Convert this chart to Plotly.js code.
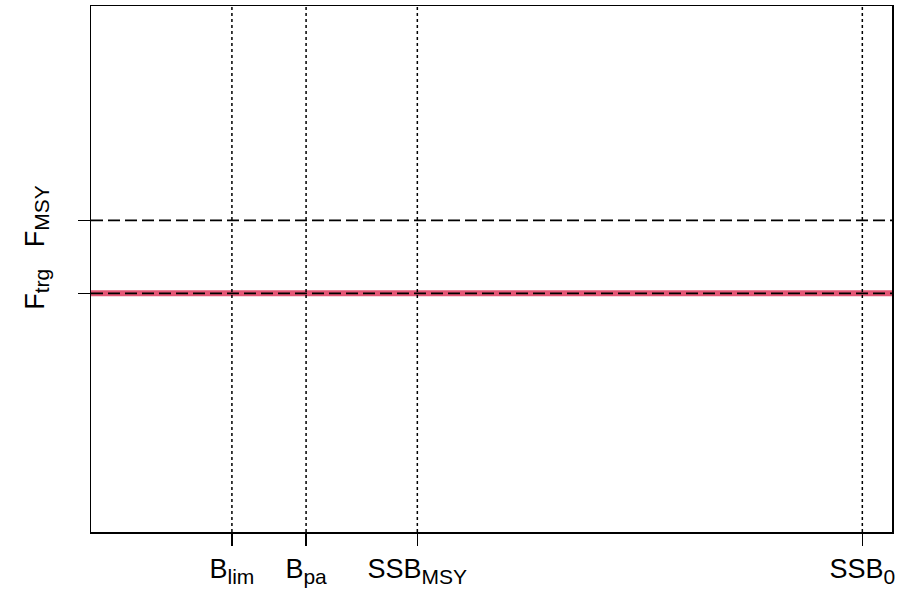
<!DOCTYPE html>
<html>
<head>
<meta charset="utf-8">
<script src="https://cdn.plot.ly/plotly-3.0.1.min.js"></script>
<style>html,body{margin:0;padding:0;background:#fff;}#chart{width:912px;height:594px;}</style>
</head>
<body>
<div id="chart"></div>
<script>
// Reference points (relative to SSB0 and axis scale)
const xRefMain = ["B", "B", "SSB", "SSB"];
const xRefSub = ["lim", "pa", "MSY", "0"];
const xRefValues = [0.15, 0.25, 0.40, 1.00];
const yRefMain = ["F", "F"];
const yRefSub = ["trg", "MSY"];
const yRefValues = [0.225, 0.30];
const xRange = [-0.04, 1.04];
const yRange = [-0.02, 0.52];

const SUBSIZE = 21;
const lbl = (m, s) => m + '<sub><span style="font-size:' + SUBSIZE + 'px">' + s + '</span></sub>';
const xRefNames = xRefMain.map((m, i) => lbl(m, xRefSub[i]));
const yRefNames = yRefMain.map((m, i) => lbl(m, yRefSub[i]));

const traces = [];
// F target: red band with black dashes on top
traces.push({x: xRange, y: [yRefValues[0], yRefValues[0]], mode: 'lines',
  line: {color: 'rgb(228,88,118)', width: 6}, hoverinfo: 'skip', showlegend: false});
traces.push({x: xRange, y: [yRefValues[0], yRefValues[0]], mode: 'lines',
  line: {color: 'black', width: 1.8, dash: '12px,5px'}, hoverinfo: 'skip', showlegend: false});
// F MSY: dashed black
traces.push({x: xRange, y: [yRefValues[1], yRefValues[1]], mode: 'lines',
  line: {color: 'black', width: 1.8, dash: '12px,5px'}, hoverinfo: 'skip', showlegend: false});
// Vertical dotted lines at biomass reference points
xRefValues.forEach(v => {
  traces.push({x: [v, v], y: yRange, mode: 'lines',
    line: {color: 'black', width: 1.5, dash: 'dot'}, hoverinfo: 'skip', showlegend: false});
});

const axisCommon = {
  showgrid: false, zeroline: false, showline: true, mirror: true,
  linecolor: 'black', linewidth: 1.5,
  ticks: 'outside', ticklen: 12, tickwidth: 1.5, tickcolor: 'black',
  tickfont: {family: 'Liberation Sans, Arial, sans-serif', size: 27, color: 'black'}
};

const layout = {
  width: 912, height: 594,
  margin: {l: 91, r: 20, t: 6, b: 62},
  paper_bgcolor: 'white', plot_bgcolor: 'white',
  showlegend: false,
  xaxis: Object.assign({}, axisCommon, {range: xRange, tickmode: 'array',
    tickvals: xRefValues, ticktext: xRefNames, tickangle: 0}),
  yaxis: Object.assign({}, axisCommon, {range: yRange, tickmode: 'array',
    tickvals: yRefValues, ticktext: yRefNames, tickangle: -90, ticklabelstandoff: 23})
};

Plotly.newPlot('chart', traces, layout, {displayModeBar: false, staticPlot: true});
</script>
</body>
</html>
